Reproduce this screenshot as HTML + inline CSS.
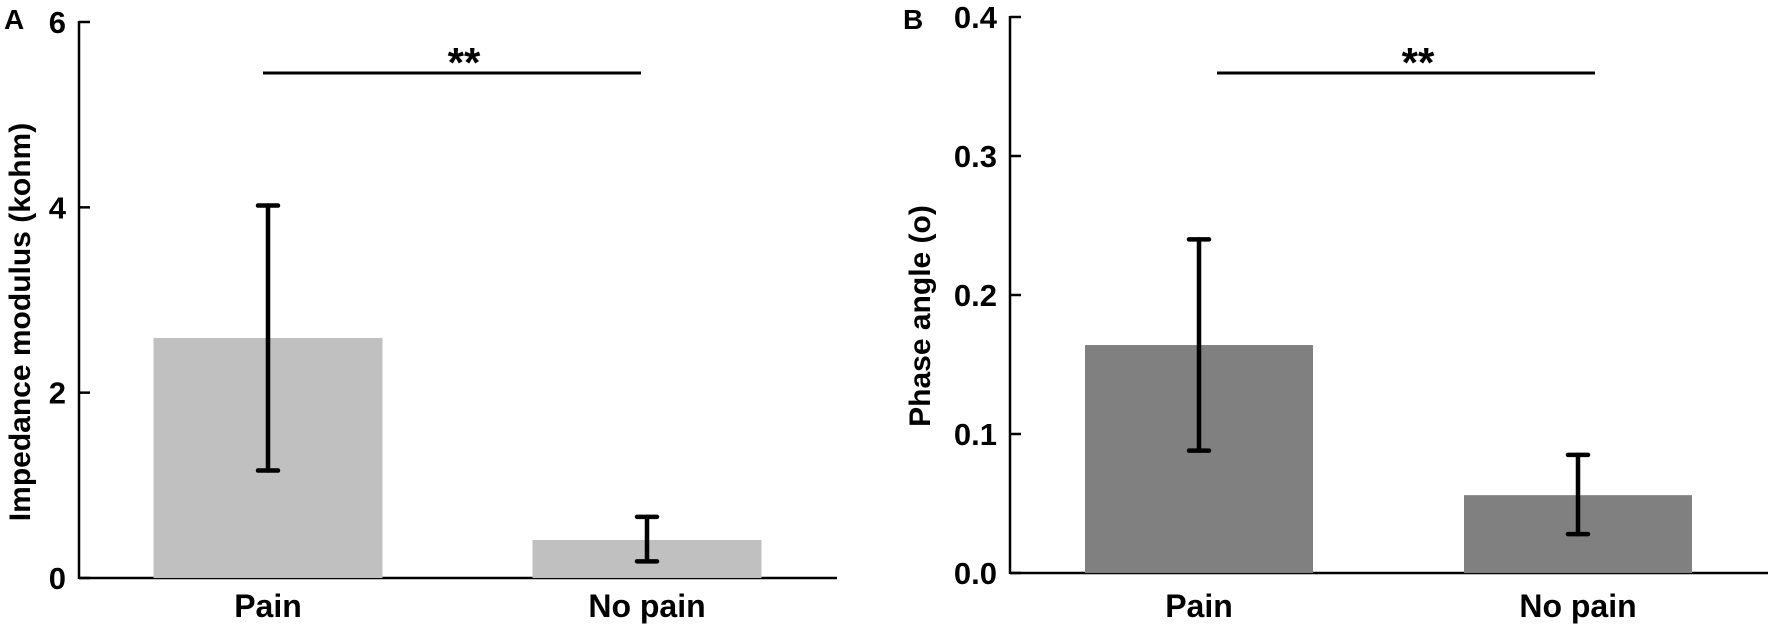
<!DOCTYPE html>
<html><head><meta charset="utf-8"><style>
html,body{margin:0;padding:0;background:#fff;}
svg{display:block;font-family:"Liberation Sans",Arial,sans-serif;font-weight:bold;}
</style></head><body>
<svg id="chart" width="1772" height="627" viewBox="0 0 1772 627"></svg>
<script>
const categories = ["Pain", "No pain"];
const impedanceMeans = [2.59, 0.41];
const impedanceLow = [1.16, 0.18];
const impedanceHigh = [4.02, 0.66];
const impedanceTicks = [0, 2, 4, 6];
const impedanceTickLabels = ["0", "2", "4", "6"];
const phaseMeans = [0.164, 0.056];
const phaseLow = [0.088, 0.028];
const phaseHigh = [0.240, 0.085];
const phaseTicks = [0, 0.1, 0.2, 0.3, 0.4];
const phaseTickLabels = ["0.0", "0.1", "0.2", "0.3", "0.4"];

const NS = "http://www.w3.org/2000/svg";
const svg = document.getElementById('chart');
function mk(tag, attrs, parent) {
  const e = document.createElementNS(NS, tag);
  for (const k in attrs) e.setAttribute(k, attrs[k]);
  (parent || svg).appendChild(e);
  return e;
}

function panel(cfg) {
  const g = mk('g', {});
  
  
  const y = v => cfg.y0 - (v - cfg.min) / (cfg.max - cfg.min) * (cfg.y0 - cfg.yTop);
  const ya = mk('line', {x1: cfg.ax, y1: cfg.yTop - 1, x2: cfg.ax, y2: cfg.y0 + 1, stroke: '#000', 'stroke-width': 2.5}, g);
  
  
  const xa = mk('line', {x1: cfg.ax, y1: cfg.y0, x2: cfg.xEnd, y2: cfg.y0, stroke: '#000', 'stroke-width': 2.5}, g);
  
  
  cfg.ticks.forEach((t, i) => {
    const tk = mk('line', {x1: cfg.ax, y1: y(t), x2: cfg.ax + 11, y2: y(t), stroke: '#000', 'stroke-width': 2.5}, g);
    
    
    const tl = mk('text', {x: cfg.labelRight, y: y(t) + 11, 'text-anchor': 'end', 'font-size': 31}, g);
    tl.textContent = cfg.tickLabels[i];
    
    
  });
  cfg.means.forEach((m, i) => {
    const cx = cfg.centers[i];
    const b = mk('rect', {x: cx - cfg.bw / 2, y: y(m), width: cfg.bw, height: cfg.y0 - y(m), fill: cfg.color}, g);
    
    
    const eg = mk('g', {stroke: '#000', 'stroke-width': 4.5, 'stroke-linecap': 'round'}, g);
    
    
    mk('line', {x1: cx, y1: y(cfg.low[i]), x2: cx, y2: y(cfg.high[i])}, eg);
    mk('line', {x1: cx - 10, y1: y(cfg.low[i]), x2: cx + 10, y2: y(cfg.low[i])}, eg);
    mk('line', {x1: cx - 10, y1: y(cfg.high[i]), x2: cx + 10, y2: y(cfg.high[i])}, eg);
    const cl = mk('text', {x: cx, y: 617, 'text-anchor': 'middle', 'font-size': 32}, g);
    cl.textContent = categories[i];
    
    
  });
  const sl = mk('line', {x1: cfg.sig[0], y1: 73, x2: cfg.sig[1], y2: 73, stroke: '#000', 'stroke-width': 3}, g);
  
  
  const st = mk('text', {x: cfg.starX, y: 77, 'text-anchor': 'middle', 'font-size': 42}, g);
  st.textContent = '**';
  
  
  const yt = mk('text', {x: 0, y: 0, 'text-anchor': 'middle', 'font-size': 30, transform: `translate(${cfg.titleX},${cfg.titleY}) rotate(-90)`}, g);
  yt.textContent = cfg.title;
  
  
  const pl = mk('text', {x: cfg.letterX, y: 29, 'font-size': 28}, g);
  pl.textContent = cfg.letter;
  
  
}

panel({name: 'panel-a', ax: 79, xEnd: 837, y0: 578, yTop: 22, min: 0, max: 6, labelRight: 66,
  ticks: impedanceTicks, tickLabels: impedanceTickLabels,
  means: impedanceMeans, low: impedanceLow, high: impedanceHigh,
  centers: [268, 647], bw: 229, color: '#c0c0c0', sig: [263, 641], starX: 464,
  title: 'Impedance modulus (kohm)', titleX: 30, titleY: 322, letter: 'A', letterX: 4});
panel({name: 'panel-b', ax: 1010, xEnd: 1768, y0: 573, yTop: 17, min: 0, max: 0.4, labelRight: 997,
  ticks: phaseTicks, tickLabels: phaseTickLabels,
  means: phaseMeans, low: phaseLow, high: phaseHigh,
  centers: [1199, 1578], bw: 228, color: '#808080', sig: [1217, 1595], starX: 1418,
  title: 'Phase angle (o)', titleX: 930, titleY: 316, letter: 'B', letterX: 903});
</script>
</body></html>
